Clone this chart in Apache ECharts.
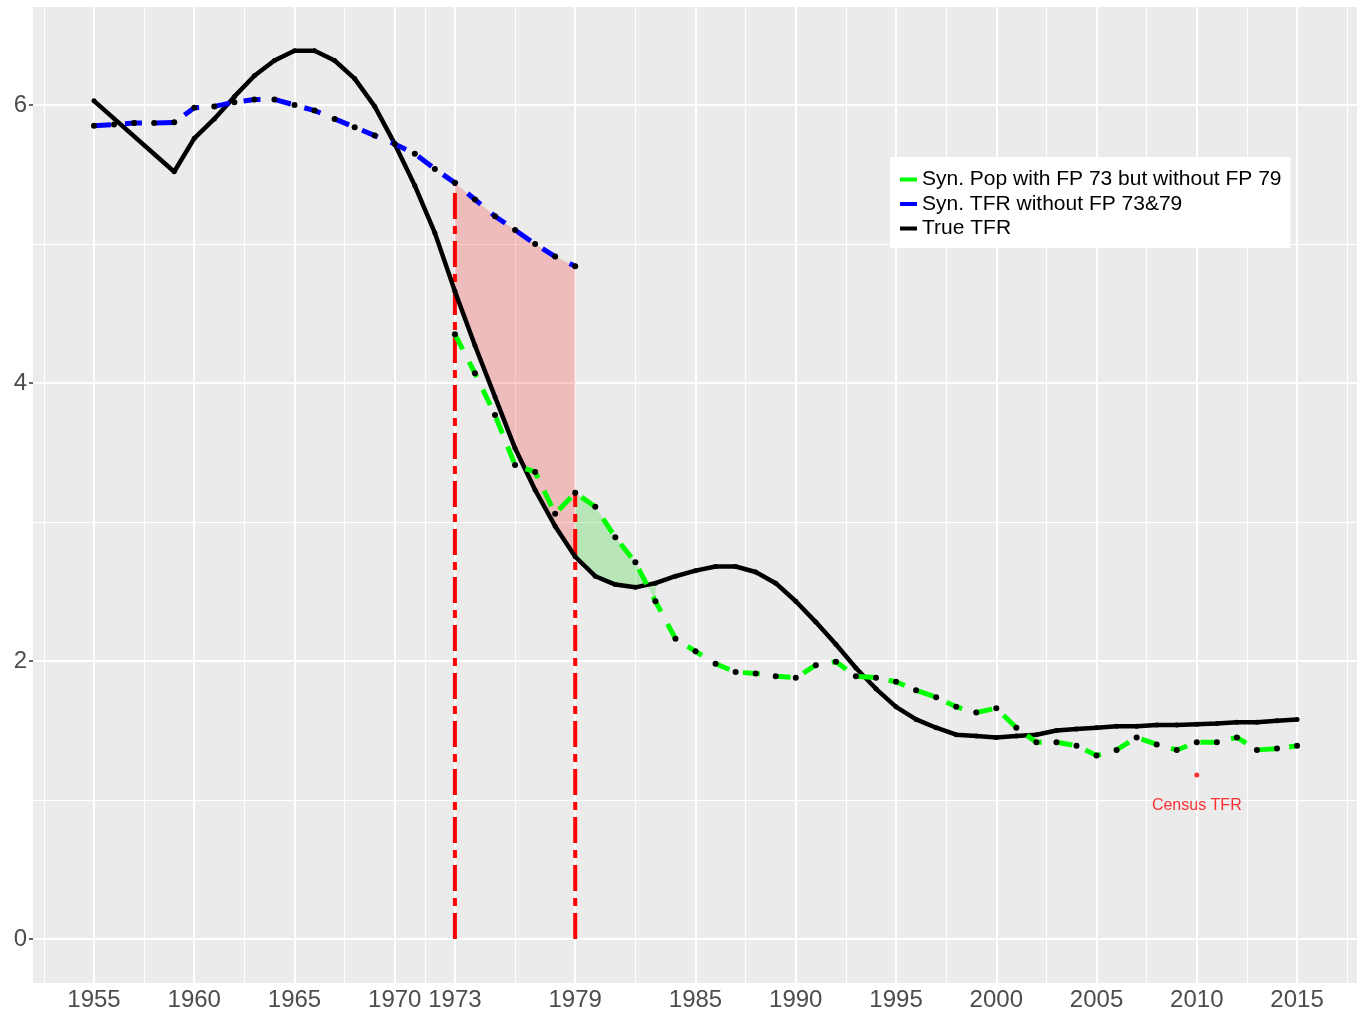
<!DOCTYPE html>
<html style="height: 100%">
<head>
	<meta charset="utf-8">
	<script src="https://cdn.jsdelivr.net/npm/echarts@6/dist/echarts.min.js"></script>
</head>
<body style="height: 100%; margin: 0; background: #fff">
	<div id="container" style="width: 1359px; height: 1014px;"></div>
	<script type="text/javascript">
		// True TFR (black)
		const trueYears = [1955, 1959, 1960, 1961, 1962, 1963, 1964, 1965, 1966, 1967, 1968, 1969,
			1970, 1971, 1972, 1973, 1974, 1975, 1976, 1977, 1978, 1979, 1980, 1981, 1982, 1983,
			1984, 1985, 1986, 1987, 1988, 1989, 1990, 1991, 1992, 1993, 1994, 1995, 1996, 1997,
			1998, 1999, 2000, 2001, 2002, 2003, 2004, 2005, 2006, 2007, 2008, 2009, 2010, 2011,
			2012, 2013, 2014, 2015];
		const trueTFR = [6.03, 5.52, 5.76, 5.90, 6.06, 6.21, 6.32, 6.39, 6.39, 6.32, 6.19, 5.99,
			5.72, 5.42, 5.08, 4.66, 4.27, 3.90, 3.53, 3.23, 2.97, 2.75, 2.61, 2.55, 2.53, 2.56,
			2.61, 2.65, 2.68, 2.68, 2.64, 2.56, 2.43, 2.28, 2.12, 1.95, 1.80, 1.67, 1.58, 1.52,
			1.47, 1.46, 1.45, 1.46, 1.47, 1.50, 1.51, 1.52, 1.53, 1.53, 1.54, 1.54, 1.545, 1.55,
			1.56, 1.56, 1.57, 1.58];

		// Syn. TFR without FP 73&79 (blue)
		const blueYears = [1955, 1956, 1957, 1958, 1959, 1960, 1961, 1962, 1963, 1964, 1965, 1966,
			1967, 1968, 1969, 1970, 1971, 1972, 1973, 1974, 1975, 1976, 1977, 1978, 1979];
		const blueTFR = [5.85, 5.86, 5.87, 5.87, 5.875, 5.98, 5.99, 6.02, 6.04, 6.04, 6.00, 5.96,
			5.90, 5.84, 5.78, 5.72, 5.65, 5.54, 5.44, 5.32, 5.20, 5.10, 5.00, 4.91, 4.84];

		// Syn. Pop with FP 73 but without FP 79 (green)
		const greenYears = [1973, 1974, 1975, 1976, 1977, 1978, 1979, 1980, 1981, 1982, 1983, 1984,
			1985, 1986, 1987, 1988, 1989, 1990, 1991, 1992, 1993, 1994, 1995, 1996, 1997, 1998,
			1999, 2000, 2001, 2002, 2003, 2004, 2005, 2006, 2007, 2008, 2009, 2010, 2011, 2012,
			2013, 2014, 2015];
		const greenTFR = [4.35, 4.07, 3.77, 3.41, 3.36, 3.06, 3.21, 3.11, 2.89, 2.71, 2.43, 2.16,
			2.07, 1.98, 1.92, 1.91, 1.89, 1.88, 1.97, 1.995, 1.89, 1.88, 1.85, 1.79, 1.74, 1.67,
			1.63, 1.66, 1.52, 1.415, 1.415, 1.39, 1.32, 1.36, 1.45, 1.40, 1.36, 1.415, 1.415, 1.45,
			1.36, 1.37, 1.39];

		const censusPoint = [2010, 1.18];
		const pinkBand = [1973, 1979];
		const greenBand = [1979, 1983];

		const xBreaks = [1955, 1960, 1965, 1970, 1973, 1979, 1985, 1990, 1995, 2000, 2005, 2010, 2015];
		const xMinor = [1952.5, 1957.5, 1962.5, 1967.5, 1971.5, 1976, 1982, 1987.5, 1992.5, 1997.5,
			2002.5, 2007.5, 2012.5, 2017.5];
		const yBreaks = [0, 2, 4, 6];
		const yMinor = [1, 3, 5];

		const names = ['Syn. Pop with FP 73 but without FP 79', 'Syn. TFR without FP 73&79', 'True TFR'];

		function pairs(xs, ys) {
			return xs.map((x, i) => [x, ys[i]]);
		}
		function valueAt(xs, ys, year) {
			return ys[xs.indexOf(year)];
		}
		function between(xs, ys, a, b) {
			return pairs(xs, ys).filter(p => p[0] >= a && p[0] <= b);
		}

		function band(upper, lower, fill) {
			return {
				type: 'custom',
				z: 2,
				silent: true,
				data: [upper[0]],
				renderItem: function (params, api) {
					let pts = upper.map(p => api.coord(p));
					lower.slice().reverse().forEach(p => pts.push(api.coord(p)));
					return { type: 'polygon', shape: { points: pts }, style: { fill: fill } };
				}
			};
		}

		let gridLines = [];
		xBreaks.forEach(v => gridLines.push({ xAxis: v, lineStyle: { width: 2 } }));
		xMinor.forEach(v => gridLines.push({ xAxis: v, lineStyle: { width: 1 } }));
		yBreaks.forEach(v => gridLines.push({ yAxis: v, lineStyle: { width: 2 } }));
		yMinor.forEach(v => gridLines.push({ yAxis: v, lineStyle: { width: 1 } }));

		const redLines = [
			[[1973, 0], [1973, valueAt(blueYears, blueTFR, 1973)]],
			[[1979, 0], [1979, valueAt(greenYears, greenTFR, 1979)]]
		];

		const font = 'Liberation Sans, Arial, sans-serif';

		let dom = document.getElementById('container');
		let myChart = echarts.init(dom);
		let option = {
			animation: false,
			grid: {
				left: 33, right: 2, top: 7, bottom: 31,
				show: true, backgroundColor: '#EBEBEB', borderWidth: 0,
				containLabel: false, outerBoundsMode: 'none'
			},
			legend: {
				orient: 'vertical',
				left: 890, top: 157,
				padding: [12, 9, 9, 10],
				backgroundColor: '#fff',
				itemWidth: 17, itemHeight: 4, itemGap: 3.5,
				icon: 'rect',
				selectedMode: false,
				z: 10,
				textStyle: { fontSize: 21, lineHeight: 21, color: '#000', fontFamily: font },
				data: [
					{ name: names[0], itemStyle: { color: '#00FF00' } },
					{ name: names[1], itemStyle: { color: '#0000FF' } },
					{ name: names[2], itemStyle: { color: '#000000' } }
				]
			},
			xAxis: {
				type: 'value',
				min: 1951.958, max: 2017.99,
				splitLine: { show: false },
				axisLine: { show: false },
				axisTick: { show: true, length: 4, customValues: xBreaks, lineStyle: { color: '#333', width: 1.5 } },
				axisLabel: {
					customValues: xBreaks, margin: 5, fontSize: 24, color: '#4D4D4D', fontFamily: font,
					formatter: v => String(v)
				}
			},
			yAxis: {
				type: 'value',
				min: -0.3165, max: 6.705,
				splitLine: { show: false },
				axisLine: { show: false },
				axisTick: { show: true, length: 4, customValues: yBreaks, lineStyle: { color: '#333', width: 1.5 } },
				axisLabel: {
					customValues: yBreaks, margin: 6, fontSize: 24, color: '#4D4D4D', fontFamily: font,
					formatter: v => String(v)
				}
			},
			series: [
				{
					type: 'line',
					z: 1,
					silent: true,
					data: [],
					markLine: {
						z: 1,
						silent: true,
						symbol: ['none', 'none'],
						label: { show: false },
						lineStyle: { color: '#fff', type: 'solid' },
						data: gridLines
					}
				},
				band(between(blueYears, blueTFR, pinkBand[0], pinkBand[1]),
					between(trueYears, trueTFR, pinkBand[0], pinkBand[1]), 'rgba(255,0,0,0.2)'),
				band(between(greenYears, greenTFR, greenBand[0], greenBand[1]),
					between(trueYears, trueTFR, greenBand[0], greenBand[1]), 'rgba(0,210,0,0.22)'),
				...redLines.map(d => ({
					type: 'line',
					z: 3,
					silent: true,
					data: d,
					showSymbol: false,
					lineStyle: { color: '#FF0000', width: 4, type: [26, 7, 8, 7] }
				})),
				{
					name: names[2],
					type: 'line',
					z: 4,
					data: pairs(trueYears, trueTFR),
					symbol: 'circle', symbolSize: 5, showAllSymbol: true,
					itemStyle: { color: '#000' },
					lineStyle: { color: '#000', width: 4.5 }
				},
				{
					name: names[0],
					type: 'line',
					z: 5,
					data: pairs(greenYears, greenTFR),
					symbol: 'circle', symbolSize: 6, showAllSymbol: true,
					itemStyle: { color: '#000' },
					lineStyle: { color: '#00FF00', width: 5, type: [17, 14] }
				},
				{
					name: names[1],
					type: 'line',
					z: 5,
					data: pairs(blueYears, blueTFR),
					symbol: 'circle', symbolSize: 6, showAllSymbol: true,
					itemStyle: { color: '#000' },
					lineStyle: { color: '#0000FF', width: 5, type: [17, 14] }
				},
				{
					type: 'scatter',
					z: 6,
					data: [censusPoint],
					symbolSize: 5,
					itemStyle: { color: '#FF0000' },
					label: {
						show: true, position: 'bottom', distance: 20,
						formatter: 'Census TFR', color: '#FF0000', fontSize: 16, fontFamily: font
					}
				}
			]
		};
		myChart.setOption(option);
	</script>
</body>
</html>
